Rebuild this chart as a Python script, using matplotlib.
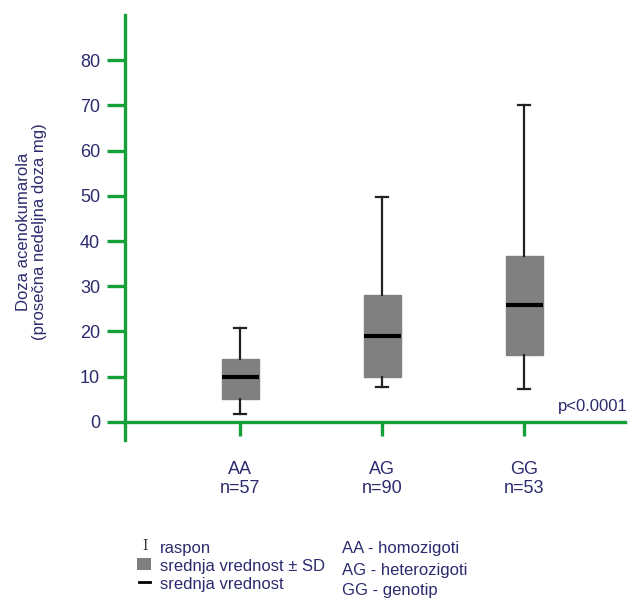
import matplotlib
matplotlib.use("Agg")
import matplotlib.pyplot as plt
from matplotlib.patches import Rectangle
from matplotlib.lines import Line2D

categories = ["AA\nn=57", "AG\nn=90", "GG\nn=53"]
means = [9.9, 19.0, 25.9]
sd_low = [5.1, 9.9, 14.8]
sd_high = [13.9, 28.1, 36.7]
range_min = [1.7, 7.7, 7.3]
range_max = [20.8, 49.7, 70.1]
yticks = [0, 10, 20, 30, 40, 50, 60, 70, 80]

GREEN = "#16a03a"
NAVY = "#2b2b6e"
plt.rcParams['font.family'] = ["Liberation Sans", "DejaVu Sans"]

fig = plt.figure(figsize=(6.29, 6.01), dpi=100)
ax = fig.add_axes([125/629, 1-440/601, 500/629, 425/601])

stats = []
for i in range(len(categories)):
    stats.append(dict(med=means[i], q1=sd_low[i], q3=sd_high[i],
                      whislo=range_min[i], whishi=range_max[i], fliers=[]))
pos = [1, 2, 3]
ax.bxp(stats, positions=pos, widths=0.26, patch_artist=True, showfliers=False,
       boxprops=dict(facecolor="#808080", edgecolor="#808080", linewidth=1),
       medianprops=dict(color="black", linewidth=3),
       whiskerprops=dict(color="#222222", linewidth=1.6),
       capprops=dict(color="#222222", linewidth=1.6),
       capwidths=0.085, manage_ticks=False)

ax.set_xlim(0.19, 3.71)
ax.set_ylim(-4, 90)
ax.set_xticks(pos)
ax.set_xticklabels(categories, linespacing=1.05)
ax.set_yticks(yticks)
ax.set_yticklabels([str(v) for v in yticks])

for s in ["top", "right"]:
    ax.spines[s].set_visible(False)
ax.spines["bottom"].set_position(("data", 0))
ax.spines["bottom"].set_color(GREEN)
ax.spines["left"].set_color(GREEN)
ax.spines["bottom"].set_linewidth(2.4)
ax.spines["left"].set_linewidth(2.4)
ax.tick_params(axis="y", length=13, width=2.4, color=GREEN, direction="out", pad=5,
               labelcolor=NAVY, labelsize=13)
ax.tick_params(axis="x", length=10, width=2.4, color=GREEN, direction="out", pad=18,
               labelcolor=NAVY, labelsize=13)

ax.set_ylabel("Doza acenokumarola\n(prosečna nedeljna doza mg)", color=NAVY,
              fontsize=12, linespacing=1.15)
ax.yaxis.set_label_coords(-0.155, 0.49)

ax.text(3.235, 1.8, "p<0.0001", color=NAVY, fontsize=12, ha="left", va="bottom",
        clip_on=False)

# legend block
fig.text(145/629, 1-546/601, "I", family="DejaVu Serif", fontsize=10, color="#333333",
         ha="center", va="center")
fig.text(160/629, 1-548/601, "raspon", color=NAVY, fontsize=12, va="center")
fig.patches.append(Rectangle((137/629, 1-570/601), 14/629, 12/601,
                             transform=fig.transFigure, facecolor="#808080",
                             edgecolor="none"))
fig.text(160/629, 1-566/601, "srednja vrednost \u00b1 SD", color=NAVY, fontsize=12,
         va="center")
fig.lines.append(Line2D([139/629, 150/629], [1-582/601, 1-582/601],
                        transform=fig.transFigure, color="black", linewidth=2))
fig.text(160/629, 1-584/601, "srednja vrednost", color=NAVY, fontsize=12, va="center")

fig.text(342/629, 1-549/601, "AA - homozigoti", color=NAVY, fontsize=12, va="center")
fig.text(342/629, 1-570/601, "AG - heterozigoti", color=NAVY, fontsize=12, va="center")
fig.text(342/629, 1-591/601, "GG - genotip", color=NAVY, fontsize=12, va="center")

fig.savefig("out.png", dpi=100)
